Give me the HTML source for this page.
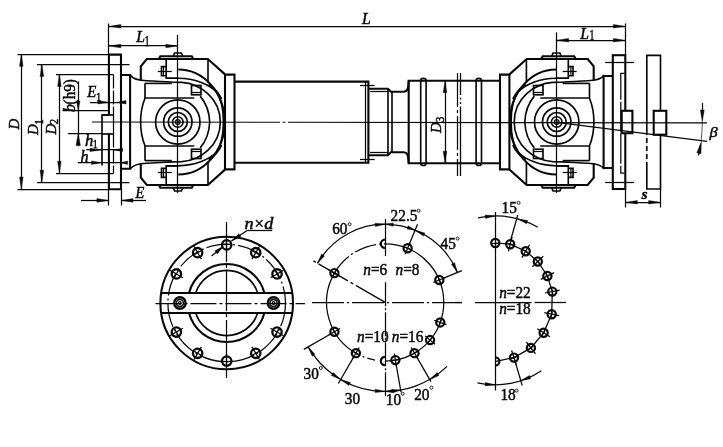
<!DOCTYPE html>
<html><head><meta charset="utf-8"><title>drawing</title>
<style>
html,body{margin:0;padding:0;background:#fff;}
body{width:723px;height:447px;overflow:hidden;font-family:"Liberation Serif",serif;}
svg{display:block;filter:grayscale(1) blur(0.3px);}
</style></head><body>
<svg width="723" height="447" viewBox="0 0 723 447" font-family="'Liberation Serif', serif" fill="#080808" stroke="none">
<rect x="0" y="0" width="723" height="447" fill="#ffffff"/>
<g stroke="#080808" fill="none" stroke-linecap="butt" stroke-linejoin="miter">
<line x1="177.50" y1="35.00" x2="177.50" y2="193.00" stroke-width="1.25"/>
<line x1="556.50" y1="32.30" x2="556.50" y2="193.00" stroke-width="1.25"/>
<g>
<g>
<path d="M140.80,80.2 L140.80,66.4 L146.80,59 L207.80,59 L225.30,74.6 L234.50,74.6 L234.50,122.0" stroke-width="2.1" fill="none"/>
<line x1="225.00" y1="74.60" x2="225.00" y2="122.00" stroke-width="2.1"/>
<line x1="208.00" y1="59.00" x2="208.00" y2="82.50" stroke-width="1.65"/>
<path d="M158.80,59 L160.30,56.2 L191.80,56.2 L193.30,59" stroke-width="2.1" fill="none"/>
<path d="M173.30,56 L174.60,53 L181.40,53 L182.70,56" stroke-width="1.65" fill="none"/>
<path d="M166.20,59 L166.20,78.2 L178.30,78.2" stroke-width="1.65" fill="none"/>
<path d="M166.20,66.6 L161.50,66.6 L161.50,75.7 L166.20,75.7" stroke-width="1.65" fill="none"/>
<line x1="163.50" y1="66.60" x2="163.50" y2="75.70" stroke-width="1.25"/>
<line x1="157.80" y1="71.50" x2="171.80" y2="71.50" stroke-width="1.25"/>
<path d="M166.20,78.2 L178.30,78.2 C194.80,78.4 208.80,84 216.50,92 C221.00,98.5 223.40,110 223.40,122.0" stroke-width="1.65" fill="none"/>
<path d="M178.30,69.5 A46.3,52.5 0 0 1 224.60,122.0" stroke-width="2.1" fill="none"/>
<path d="M130.10,75 C132.80,79 137.80,80.5 146.80,80.8 C157.80,81.2 169.80,82.2 181.80,82.4 C199.80,83.5 220.30,98 220.30,122.0" stroke-width="1.65" fill="none"/>
<path d="M145.00,83.4 L171.80,83.4" stroke-width="1.65" fill="none"/>
<path d="M208.80,84.2 C214.80,88.5 218.80,93 221.60,99" stroke-width="1.8" fill="none"/>
<path d="M145.00,83.2 L145.00,98.2 C141.00,108 140.60,115 140.60,122.0" stroke-width="1.65" fill="none"/>
<line x1="145.00" y1="98.00" x2="194.30" y2="98.00" stroke-width="1.65"/>
<rect x="191.50" y="85.50" width="9.50" height="9.30" stroke-width="1.65" fill="none"/>
<line x1="191.50" y1="92.50" x2="201.00" y2="92.50" stroke-width="1.25"/>
<path d="M200.20,96.1 A31.9,38.5 0 0 1 209.70,122.0" stroke-width="1.65" fill="none"/>
</g>
<g transform="translate(0,244.00) scale(1,-1)">
<path d="M140.80,80.2 L140.80,66.4 L146.80,59 L207.80,59 L225.30,74.6 L234.50,74.6 L234.50,122.0" stroke-width="2.1" fill="none"/>
<line x1="225.00" y1="74.60" x2="225.00" y2="122.00" stroke-width="2.1"/>
<line x1="208.00" y1="59.00" x2="208.00" y2="82.50" stroke-width="1.65"/>
<path d="M158.80,59 L160.30,56.2 L191.80,56.2 L193.30,59" stroke-width="2.1" fill="none"/>
<path d="M173.30,56 L174.60,53 L181.40,53 L182.70,56" stroke-width="1.65" fill="none"/>
<path d="M166.20,59 L166.20,78.2 L178.30,78.2" stroke-width="1.65" fill="none"/>
<path d="M166.20,66.6 L161.50,66.6 L161.50,75.7 L166.20,75.7" stroke-width="1.65" fill="none"/>
<line x1="163.50" y1="66.60" x2="163.50" y2="75.70" stroke-width="1.25"/>
<line x1="157.80" y1="71.50" x2="171.80" y2="71.50" stroke-width="1.25"/>
<path d="M166.20,78.2 L178.30,78.2 C194.80,78.4 208.80,84 216.50,92 C221.00,98.5 223.40,110 223.40,122.0" stroke-width="1.65" fill="none"/>
<path d="M178.30,69.5 A46.3,52.5 0 0 1 224.60,122.0" stroke-width="2.1" fill="none"/>
<path d="M130.10,75 C132.80,79 137.80,80.5 146.80,80.8 C157.80,81.2 169.80,82.2 181.80,82.4 C199.80,83.5 220.30,98 220.30,122.0" stroke-width="1.65" fill="none"/>
<path d="M145.00,83.4 L171.80,83.4" stroke-width="1.65" fill="none"/>
<path d="M208.80,84.2 C214.80,88.5 218.80,93 221.60,99" stroke-width="1.8" fill="none"/>
<path d="M145.00,83.2 L145.00,98.2 C141.00,108 140.60,115 140.60,122.0" stroke-width="1.65" fill="none"/>
<line x1="145.00" y1="98.00" x2="194.30" y2="98.00" stroke-width="1.65"/>
<rect x="191.50" y="85.50" width="9.50" height="9.30" stroke-width="1.65" fill="none"/>
<line x1="191.50" y1="92.50" x2="201.00" y2="92.50" stroke-width="1.25"/>
<path d="M200.20,96.1 A31.9,38.5 0 0 1 209.70,122.0" stroke-width="1.65" fill="none"/>
</g>
<circle cx="177.80" cy="122.00" r="22.20" stroke-width="1.7" fill="none"/>
<circle cx="177.80" cy="122.00" r="14.20" stroke-width="1.7" fill="none"/>
<circle cx="177.80" cy="122.00" r="9.50" stroke-width="1.7" fill="none"/>
<circle cx="177.80" cy="122.00" r="5.30" stroke-width="1.6" fill="none"/>
<circle cx="177.80" cy="122.00" r="2.30" stroke-width="1.3" fill="none"/>
<circle cx="177.80" cy="122.00" r="0.90" stroke-width="0.5" fill="#080808"/>
</g>
<g transform="translate(1113.40,0) scale(-1,1)">
<g>
<path d="M519.70,80.2 L519.70,66.4 L525.70,59 L586.70,59 L604.20,74.6 L613.40,74.6 L613.40,122.0" stroke-width="2.1" fill="none"/>
<line x1="604.00" y1="74.60" x2="604.00" y2="122.00" stroke-width="2.1"/>
<line x1="587.00" y1="59.00" x2="587.00" y2="82.50" stroke-width="1.65"/>
<path d="M537.70,59 L539.20,56.2 L570.70,56.2 L572.20,59" stroke-width="2.1" fill="none"/>
<path d="M552.20,56 L553.50,53 L560.30,53 L561.60,56" stroke-width="1.65" fill="none"/>
<path d="M545.10,59 L545.10,78.2 L557.20,78.2" stroke-width="1.65" fill="none"/>
<path d="M545.10,66.6 L540.40,66.6 L540.40,75.7 L545.10,75.7" stroke-width="1.65" fill="none"/>
<line x1="542.50" y1="66.60" x2="542.50" y2="75.70" stroke-width="1.25"/>
<line x1="536.70" y1="71.50" x2="550.70" y2="71.50" stroke-width="1.25"/>
<path d="M545.10,78.2 L557.20,78.2 C573.70,78.4 587.70,84 595.40,92 C599.90,98.5 602.30,110 602.30,122.0" stroke-width="1.65" fill="none"/>
<path d="M557.20,69.5 A46.3,52.5 0 0 1 603.50,122.0" stroke-width="2.1" fill="none"/>
<path d="M509.00,75 C511.70,79 516.70,80.5 525.70,80.8 C536.70,81.2 548.70,82.2 560.70,82.4 C578.70,83.5 599.20,98 599.20,122.0" stroke-width="1.65" fill="none"/>
<path d="M523.90,83.4 L550.70,83.4" stroke-width="1.65" fill="none"/>
<path d="M587.70,84.2 C593.70,88.5 597.70,93 600.50,99" stroke-width="1.8" fill="none"/>
<path d="M523.90,83.2 L523.90,98.2 C519.90,108 519.50,115 519.50,122.0" stroke-width="1.65" fill="none"/>
<line x1="523.90" y1="98.00" x2="573.20" y2="98.00" stroke-width="1.65"/>
<rect x="570.40" y="85.50" width="9.50" height="9.30" stroke-width="1.65" fill="none"/>
<line x1="570.40" y1="92.50" x2="579.90" y2="92.50" stroke-width="1.25"/>
<path d="M579.10,96.1 A31.9,38.5 0 0 1 588.60,122.0" stroke-width="1.65" fill="none"/>
</g>
<g transform="translate(0,244.00) scale(1,-1)">
<path d="M519.70,80.2 L519.70,66.4 L525.70,59 L586.70,59 L604.20,74.6 L613.40,74.6 L613.40,122.0" stroke-width="2.1" fill="none"/>
<line x1="604.00" y1="74.60" x2="604.00" y2="122.00" stroke-width="2.1"/>
<line x1="587.00" y1="59.00" x2="587.00" y2="82.50" stroke-width="1.65"/>
<path d="M537.70,59 L539.20,56.2 L570.70,56.2 L572.20,59" stroke-width="2.1" fill="none"/>
<path d="M552.20,56 L553.50,53 L560.30,53 L561.60,56" stroke-width="1.65" fill="none"/>
<path d="M545.10,59 L545.10,78.2 L557.20,78.2" stroke-width="1.65" fill="none"/>
<path d="M545.10,66.6 L540.40,66.6 L540.40,75.7 L545.10,75.7" stroke-width="1.65" fill="none"/>
<line x1="542.50" y1="66.60" x2="542.50" y2="75.70" stroke-width="1.25"/>
<line x1="536.70" y1="71.50" x2="550.70" y2="71.50" stroke-width="1.25"/>
<path d="M545.10,78.2 L557.20,78.2 C573.70,78.4 587.70,84 595.40,92 C599.90,98.5 602.30,110 602.30,122.0" stroke-width="1.65" fill="none"/>
<path d="M557.20,69.5 A46.3,52.5 0 0 1 603.50,122.0" stroke-width="2.1" fill="none"/>
<path d="M509.00,75 C511.70,79 516.70,80.5 525.70,80.8 C536.70,81.2 548.70,82.2 560.70,82.4 C578.70,83.5 599.20,98 599.20,122.0" stroke-width="1.65" fill="none"/>
<path d="M523.90,83.4 L550.70,83.4" stroke-width="1.65" fill="none"/>
<path d="M587.70,84.2 C593.70,88.5 597.70,93 600.50,99" stroke-width="1.8" fill="none"/>
<path d="M523.90,83.2 L523.90,98.2 C519.90,108 519.50,115 519.50,122.0" stroke-width="1.65" fill="none"/>
<line x1="523.90" y1="98.00" x2="573.20" y2="98.00" stroke-width="1.65"/>
<rect x="570.40" y="85.50" width="9.50" height="9.30" stroke-width="1.65" fill="none"/>
<line x1="570.40" y1="92.50" x2="579.90" y2="92.50" stroke-width="1.25"/>
<path d="M579.10,96.1 A31.9,38.5 0 0 1 588.60,122.0" stroke-width="1.65" fill="none"/>
</g>
<circle cx="556.70" cy="122.00" r="22.20" stroke-width="1.7" fill="none"/>
<circle cx="556.70" cy="122.00" r="14.20" stroke-width="1.7" fill="none"/>
<circle cx="556.70" cy="122.00" r="9.50" stroke-width="1.7" fill="none"/>
<circle cx="556.70" cy="122.00" r="5.30" stroke-width="1.6" fill="none"/>
<circle cx="556.70" cy="122.00" r="2.30" stroke-width="1.3" fill="none"/>
<circle cx="556.70" cy="122.00" r="0.90" stroke-width="0.5" fill="#080808"/>
</g>
<path d="M108.9,115 L108.9,54.6 L121,54.6 L121,189.2 L108.9,189.2 L108.9,133.5" stroke-width="2.1" fill="none"/>
<line x1="113.50" y1="74.40" x2="113.50" y2="115.00" stroke-width="1.25" stroke-dasharray="14 2"/>
<line x1="113.50" y1="133.50" x2="113.50" y2="173.40" stroke-width="1.25" stroke-dasharray="14 2"/>
<line x1="113.50" y1="115.00" x2="113.50" y2="133.50" stroke-width="1.25"/>
<path d="M121,75 L130.1,75 L130.1,168.8 L121,168.8" stroke-width="2.1" fill="none"/>
<path d="M108.9,115 L102,115 L102,165.5" stroke-width="1.65" fill="none"/>
<line x1="102.00" y1="134.00" x2="113.40" y2="134.00" stroke-width="1.65"/>
<line x1="102.00" y1="115.00" x2="113.40" y2="115.00" stroke-width="1.65"/>
<rect x="612.80" y="55.20" width="12.50" height="133.80" stroke-width="2.1" fill="none"/>
<path d="M624.4,73.3 L620.8,73.3 L620.8,173.2 L624.4,173.2" stroke-width="1.25" fill="none" stroke-dasharray="30 2"/>
<path d="M612.8,76 L603.6,76 L603.6,168 L612.8,168" stroke-width="2.1" fill="none"/>
<line x1="605.00" y1="62.50" x2="634.00" y2="62.50" stroke-width="1.25"/>
<line x1="605.00" y1="182.50" x2="634.00" y2="182.50" stroke-width="1.25"/>
<rect x="621.7" y="110.8" width="10.7" height="22.4" fill="#fff" stroke-width="2.1"/>
<path d="M646.8,189 L646.8,55.4 L660.5,55.4 L660.5,189 Z" stroke-width="1.65" fill="none"/>
<line x1="647.00" y1="135.00" x2="647.00" y2="165.00" stroke-width="1.8" stroke-dasharray="3 5" stroke="#fff"/>
<rect x="653.7" y="110.8" width="12.6" height="23.9" fill="#fff" stroke-width="2.1"/>
<path d="M702.30,122.00 A145.60,145.60 0 0 1 701.09,140.75" stroke-width="0.7" fill="none"/>
<line x1="702.50" y1="103.00" x2="702.50" y2="114.00" stroke-width="1.25"/>
<polygon points="702.30,122.00 700.40,110.00 704.20,110.00" fill="#080808" stroke="#080808" stroke-width="0.4"/>
<line x1="699.60" y1="150.00" x2="698.40" y2="155.40" stroke-width="1.25"/>
<polygon points="701.40,141.50 700.96,153.67 696.85,152.80" fill="#080808" stroke="#080808" stroke-width="0.4"/>
<path d="M234.5,81.6 L368.4,81.6 L368.4,162.8 L234.5,162.8" stroke-width="2.1" fill="none"/>
<line x1="365.50" y1="81.60" x2="365.50" y2="162.80" stroke-width="1.25"/>
<line x1="360.00" y1="85.50" x2="374.60" y2="85.50" stroke-width="1.25"/>
<line x1="360.00" y1="159.50" x2="374.60" y2="159.50" stroke-width="1.25"/>
<path d="M368.4,88.70 L388,88.70 L390.8,91.80 L404,91.80 C407.5,91.50 408.3,89.00 408.7,80.70" stroke-width="2.1" fill="none"/>
<line x1="370.00" y1="91.50" x2="388.00" y2="91.50" stroke-width="1.25"/>
<path d="M368.4,155.30 L388,155.30 L390.8,152.20 L404,152.20 C407.5,152.50 408.3,155.00 408.7,163.30" stroke-width="2.1" fill="none"/>
<line x1="370.00" y1="152.50" x2="388.00" y2="152.50" stroke-width="1.25"/>
<line x1="388.00" y1="88.70" x2="388.00" y2="155.30" stroke-width="1.65"/>
<line x1="392.00" y1="91.80" x2="392.00" y2="152.20" stroke-width="1.65"/>
<path d="M499.5,80.7 L408.7,80.7 L408.7,163.2 L499.5,163.2" stroke-width="2.1" fill="none"/>
<path d="M420.7,163.2 L420.7,80.5 C420.7,77.6 426.09999999999997,77.6 426.09999999999997,80.5 L426.09999999999997,163.2 C426.09999999999997,166.2 420.7,166.2 420.7,163.2" stroke-width="1.65" fill="none"/>
<path d="M476.1,163.2 L476.1,80.5 C476.1,77.6 481.5,77.6 481.5,80.5 L481.5,163.2 C481.5,166.2 476.1,166.2 476.1,163.2" stroke-width="1.65" fill="none"/>
<line x1="457.50" y1="73.00" x2="457.50" y2="176.00" stroke-width="1.25" stroke-dasharray="34 3 3 3"/>
<line x1="460.50" y1="73.00" x2="460.50" y2="176.00" stroke-width="1.3" stroke-dasharray="22 2.5 2 2.5 2 2.5 70 0"/>
<line x1="92.00" y1="122.00" x2="707.00" y2="122.90" stroke-width="1.15" stroke-dasharray="188 2.5 3 2.5 1000 0"/>
<line x1="556.70" y1="122.40" x2="707.00" y2="141.40" stroke-width="1.25"/>
<line x1="108.50" y1="23.50" x2="108.50" y2="54.60" stroke-width="1.25"/>
<line x1="625.50" y1="23.50" x2="625.50" y2="55.20" stroke-width="1.25"/>
<line x1="108.90" y1="26.50" x2="625.30" y2="26.50" stroke-width="1.25"/>
<polygon points="108.90,26.30 120.90,24.50 120.90,28.10" fill="#080808" stroke="#080808" stroke-width="0.4"/>
<polygon points="625.30,26.30 613.30,28.10 613.30,24.50" fill="#080808" stroke="#080808" stroke-width="0.4"/>
<line x1="108.90" y1="45.50" x2="177.80" y2="45.50" stroke-width="1.25"/>
<polygon points="108.90,46.00 120.90,44.20 120.90,47.80" fill="#080808" stroke="#080808" stroke-width="0.4"/>
<polygon points="177.80,46.00 165.80,47.80 165.80,44.20" fill="#080808" stroke="#080808" stroke-width="0.4"/>
<line x1="556.70" y1="40.50" x2="625.30" y2="40.50" stroke-width="1.25"/>
<polygon points="556.70,40.20 568.70,38.40 568.70,42.00" fill="#080808" stroke="#080808" stroke-width="0.4"/>
<polygon points="625.30,40.20 613.30,42.00 613.30,38.40" fill="#080808" stroke="#080808" stroke-width="0.4"/>
<line x1="21.50" y1="54.30" x2="21.50" y2="189.00" stroke-width="1.25"/>
<line x1="17.50" y1="54.50" x2="108.90" y2="54.50" stroke-width="1.25"/>
<line x1="17.50" y1="189.50" x2="108.90" y2="189.50" stroke-width="1.25"/>
<polygon points="21.30,54.30 23.10,66.30 19.50,66.30" fill="#080808" stroke="#080808" stroke-width="0.4"/>
<polygon points="21.30,189.00 19.50,177.00 23.10,177.00" fill="#080808" stroke="#080808" stroke-width="0.4"/>
<line x1="41.50" y1="64.40" x2="41.50" y2="182.20" stroke-width="1.25"/>
<line x1="37.00" y1="64.50" x2="129.50" y2="64.50" stroke-width="1.25"/>
<line x1="37.00" y1="182.50" x2="129.50" y2="182.50" stroke-width="1.25"/>
<polygon points="41.90,64.40 43.70,76.40 40.10,76.40" fill="#080808" stroke="#080808" stroke-width="0.4"/>
<polygon points="41.90,182.20 40.10,170.20 43.70,170.20" fill="#080808" stroke="#080808" stroke-width="0.4"/>
<line x1="59.50" y1="74.40" x2="59.50" y2="173.30" stroke-width="1.25"/>
<line x1="56.00" y1="74.50" x2="113.40" y2="74.50" stroke-width="1.25"/>
<line x1="56.00" y1="173.50" x2="113.40" y2="173.50" stroke-width="1.25"/>
<polygon points="59.40,74.40 61.20,86.40 57.60,86.40" fill="#080808" stroke="#080808" stroke-width="0.4"/>
<polygon points="59.40,173.30 57.60,161.30 61.20,161.30" fill="#080808" stroke="#080808" stroke-width="0.4"/>
<line x1="78.50" y1="81.30" x2="78.50" y2="146.30" stroke-width="1.25"/>
<line x1="62.50" y1="110.50" x2="108.90" y2="110.50" stroke-width="1.25"/>
<line x1="68.00" y1="133.50" x2="102.00" y2="133.50" stroke-width="1.25"/>
<polygon points="78.20,110.00 76.40,101.00 80.00,101.00" fill="#080808" stroke="#080808" stroke-width="0.4"/>
<polygon points="78.20,133.50 80.40,145.50 76.00,145.50" fill="#080808" stroke="#080808" stroke-width="0.4"/>
<line x1="90.00" y1="102.50" x2="126.00" y2="102.50" stroke-width="1.25"/>
<polygon points="108.90,102.30 97.90,104.00 97.90,100.60" fill="#080808" stroke="#080808" stroke-width="0.4"/>
<polygon points="117.00,102.30 126.00,100.60 126.00,104.00" fill="#080808" stroke="#080808" stroke-width="0.4"/>
<line x1="86.20" y1="149.50" x2="122.50" y2="149.50" stroke-width="1.25"/>
<polygon points="102.00,149.90 90.00,151.60 90.00,148.20" fill="#080808" stroke="#080808" stroke-width="0.4"/>
<polygon points="113.60,149.90 122.60,148.20 122.60,151.60" fill="#080808" stroke="#080808" stroke-width="0.4"/>
<line x1="77.80" y1="162.50" x2="126.50" y2="162.50" stroke-width="1.25"/>
<polygon points="102.00,162.70 91.50,164.40 91.50,161.00" fill="#080808" stroke="#080808" stroke-width="0.4"/>
<polygon points="120.60,162.70 127.60,161.00 127.60,164.40" fill="#080808" stroke="#080808" stroke-width="0.4"/>
<line x1="108.50" y1="189.20" x2="108.50" y2="205.50" stroke-width="1.25"/>
<line x1="121.50" y1="189.20" x2="121.50" y2="205.50" stroke-width="1.25"/>
<line x1="81.00" y1="200.50" x2="108.90" y2="200.50" stroke-width="1.25"/>
<line x1="121.00" y1="200.50" x2="146.00" y2="200.50" stroke-width="1.25"/>
<polygon points="108.90,200.40 96.90,202.20 96.90,198.60" fill="#080808" stroke="#080808" stroke-width="0.4"/>
<polygon points="121.00,200.40 133.00,198.60 133.00,202.20" fill="#080808" stroke="#080808" stroke-width="0.4"/>
<line x1="445.50" y1="80.70" x2="445.50" y2="163.20" stroke-width="1.25"/>
<polygon points="445.00,80.70 446.80,92.70 443.20,92.70" fill="#080808" stroke="#080808" stroke-width="0.4"/>
<polygon points="445.00,163.20 443.20,151.20 446.80,151.20" fill="#080808" stroke="#080808" stroke-width="0.4"/>
<line x1="625.50" y1="189.00" x2="625.50" y2="207.50" stroke-width="1.25"/>
<line x1="660.50" y1="188.80" x2="660.50" y2="207.50" stroke-width="1.25"/>
<line x1="625.30" y1="202.50" x2="660.60" y2="202.50" stroke-width="1.25"/>
<polygon points="625.30,202.30 637.30,200.60 637.30,204.00" fill="#080808" stroke="#080808" stroke-width="0.4"/>
<polygon points="660.60,202.30 648.60,204.00 648.60,200.60" fill="#080808" stroke="#080808" stroke-width="0.4"/>
<line x1="155.50" y1="303.50" x2="305.00" y2="303.50" stroke-width="1.25" stroke-dasharray="26 3 3 3"/>
<line x1="226.50" y1="222.00" x2="226.50" y2="378.00" stroke-width="1.25" stroke-dasharray="40 3 3 3"/>
<circle cx="226.70" cy="303.00" r="66.30" stroke-width="2.1" fill="none"/>
<circle cx="226.70" cy="303.00" r="58.80" stroke-width="1.25" fill="none" stroke-dasharray="24 3 2 3"/>
<path d="M188.95,293.20 A39.0,39.0 0 0 1 264.45,293.20" stroke-width="2.1" fill="none"/>
<path d="M188.95,312.80 A39.0,39.0 0 0 0 264.45,312.80" stroke-width="2.1" fill="none"/>
<path d="M195.61,293.20 A32.6,32.6 0 0 1 257.79,293.20" stroke-width="1.65" fill="none"/>
<path d="M195.61,312.80 A32.6,32.6 0 0 0 257.79,312.80" stroke-width="1.65" fill="none"/>
<line x1="161.13" y1="293.00" x2="292.27" y2="293.00" stroke-width="1.9"/>
<line x1="161.13" y1="313.00" x2="292.27" y2="313.00" stroke-width="1.9"/>
<circle cx="179.90" cy="303.00" r="5.70" stroke-width="2.4" fill="none"/>
<circle cx="179.90" cy="303.00" r="3.50" stroke-width="1.6" fill="none"/>
<circle cx="179.90" cy="303.00" r="1.30" stroke-width="1.2" fill="none"/>
<circle cx="273.50" cy="303.00" r="5.70" stroke-width="2.4" fill="none"/>
<circle cx="273.50" cy="303.00" r="3.50" stroke-width="1.6" fill="none"/>
<circle cx="273.50" cy="303.00" r="1.30" stroke-width="1.2" fill="none"/>
<circle cx="226.70" cy="244.90" r="4.70" stroke-width="2.3" fill="none"/>
<line x1="226.50" y1="252.40" x2="226.50" y2="237.40" stroke-width="1.25"/>
<line x1="222.70" y1="244.50" x2="230.70" y2="244.50" stroke-width="1.25"/>
<circle cx="255.75" cy="252.68" r="4.70" stroke-width="2.3" fill="none"/>
<line x1="252.00" y1="259.18" x2="259.50" y2="246.19" stroke-width="1.25"/>
<line x1="252.29" y1="250.68" x2="259.21" y2="254.68" stroke-width="1.25"/>
<circle cx="277.02" cy="273.95" r="4.70" stroke-width="2.3" fill="none"/>
<line x1="270.52" y1="277.70" x2="283.51" y2="270.20" stroke-width="1.25"/>
<line x1="275.02" y1="270.49" x2="279.02" y2="277.41" stroke-width="1.25"/>
<circle cx="277.02" cy="332.05" r="4.70" stroke-width="2.3" fill="none"/>
<line x1="270.52" y1="328.30" x2="283.51" y2="335.80" stroke-width="1.25"/>
<line x1="279.02" y1="328.59" x2="275.02" y2="335.51" stroke-width="1.25"/>
<circle cx="255.75" cy="353.32" r="4.70" stroke-width="2.3" fill="none"/>
<line x1="252.00" y1="346.82" x2="259.50" y2="359.81" stroke-width="1.25"/>
<line x1="259.21" y1="351.32" x2="252.29" y2="355.32" stroke-width="1.25"/>
<circle cx="226.70" cy="361.10" r="4.70" stroke-width="2.3" fill="none"/>
<line x1="226.50" y1="353.60" x2="226.50" y2="368.60" stroke-width="1.25"/>
<line x1="230.70" y1="361.50" x2="222.70" y2="361.50" stroke-width="1.25"/>
<circle cx="197.65" cy="353.32" r="4.70" stroke-width="2.3" fill="none"/>
<line x1="201.40" y1="346.82" x2="193.90" y2="359.81" stroke-width="1.25"/>
<line x1="201.11" y1="355.32" x2="194.19" y2="351.32" stroke-width="1.25"/>
<circle cx="176.38" cy="332.05" r="4.70" stroke-width="2.3" fill="none"/>
<line x1="182.88" y1="328.30" x2="169.89" y2="335.80" stroke-width="1.25"/>
<line x1="178.38" y1="335.51" x2="174.38" y2="328.59" stroke-width="1.25"/>
<circle cx="176.38" cy="273.95" r="4.70" stroke-width="2.3" fill="none"/>
<line x1="182.88" y1="277.70" x2="169.89" y2="270.20" stroke-width="1.25"/>
<line x1="174.38" y1="277.41" x2="178.38" y2="270.49" stroke-width="1.25"/>
<circle cx="197.65" cy="252.68" r="4.70" stroke-width="2.3" fill="none"/>
<line x1="201.40" y1="259.18" x2="193.90" y2="246.19" stroke-width="1.25"/>
<line x1="194.19" y1="254.68" x2="201.11" y2="250.68" stroke-width="1.25"/>
<line x1="247.40" y1="230.50" x2="272.20" y2="230.50" stroke-width="1.25"/>
<line x1="247.40" y1="230.30" x2="231.50" y2="240.90" stroke-width="1.25"/>
<polygon points="231.50,240.90 238.82,233.85 240.82,236.85" fill="#080808" stroke="#080808" stroke-width="0.4"/>
<line x1="211.50" y1="256.00" x2="222.00" y2="247.40" stroke-width="1.25"/>
<polygon points="223.00,246.60 217.39,253.92 214.82,250.85" fill="#080808" stroke="#080808" stroke-width="0.4"/>
<line x1="312.00" y1="302.50" x2="462.00" y2="302.50" stroke-width="1.25" stroke-dasharray="32 3 2 3"/>
<line x1="385.50" y1="219.00" x2="385.50" y2="256.00" stroke-width="1.25"/>
<line x1="385.50" y1="282.30" x2="385.50" y2="398.00" stroke-width="1.25" stroke-dasharray="24 2 2 2"/>
<path d="M334.45,273.10 A58.60,58.60 0 0 1 385.20,243.80" stroke-width="1.25" fill="none" stroke-dasharray="22 3 2 3"/>
<path d="M385.20,243.80 A58.60,58.60 0 0 1 442.91,312.58" stroke-width="1.25" fill="none"/>
<path d="M442.91,312.58 A58.60,58.60 0 0 1 433.20,336.01" stroke-width="1.25" fill="none"/>
<path d="M375.02,360.11 A58.60,58.60 0 0 1 354.15,352.10" stroke-width="1.25" fill="none" stroke-dasharray="8 3 2 3"/>
<path d="M357.69,354.14 A58.60,58.60 0 0 1 334.45,273.10" stroke-width="1.25" fill="none"/>
<path d="M433.20,336.01 A58.60,58.60 0 0 1 385.20,361.00" stroke-width="1.25" fill="none"/>
<circle cx="334.45" cy="273.10" r="4.10" stroke-width="2.2" fill="none"/>
<line x1="340.08" y1="276.35" x2="328.82" y2="269.85" stroke-width="1.25"/>
<line x1="332.85" y1="275.87" x2="336.05" y2="270.33" stroke-width="1.25"/>
<circle cx="407.63" cy="248.26" r="4.10" stroke-width="2.2" fill="none"/>
<line x1="405.14" y1="254.27" x2="410.11" y2="242.26" stroke-width="1.25"/>
<line x1="404.67" y1="247.04" x2="410.58" y2="249.49" stroke-width="1.25"/>
<circle cx="439.34" cy="279.97" r="4.10" stroke-width="2.2" fill="none"/>
<line x1="433.33" y1="282.46" x2="445.34" y2="277.49" stroke-width="1.25"/>
<line x1="438.11" y1="277.02" x2="440.56" y2="282.93" stroke-width="1.25"/>
<circle cx="440.27" cy="322.44" r="4.10" stroke-width="2.2" fill="none"/>
<line x1="434.16" y1="320.22" x2="446.37" y2="324.67" stroke-width="1.25"/>
<line x1="441.36" y1="319.44" x2="439.17" y2="325.45" stroke-width="1.25"/>
<circle cx="430.09" cy="340.07" r="4.10" stroke-width="2.2" fill="none"/>
<line x1="425.11" y1="335.89" x2="435.07" y2="344.25" stroke-width="1.25"/>
<line x1="432.15" y1="337.62" x2="428.03" y2="342.52" stroke-width="1.25"/>
<circle cx="414.50" cy="353.15" r="4.10" stroke-width="2.2" fill="none"/>
<line x1="411.25" y1="347.52" x2="417.75" y2="358.78" stroke-width="1.25"/>
<line x1="417.27" y1="351.55" x2="411.73" y2="354.75" stroke-width="1.25"/>
<circle cx="395.38" cy="360.11" r="4.10" stroke-width="2.2" fill="none"/>
<line x1="394.25" y1="353.71" x2="396.50" y2="366.51" stroke-width="1.25"/>
<line x1="398.53" y1="359.55" x2="392.22" y2="360.67" stroke-width="1.25"/>
<circle cx="355.90" cy="353.15" r="4.10" stroke-width="2.2" fill="none"/>
<line x1="359.15" y1="347.52" x2="352.65" y2="358.78" stroke-width="1.25"/>
<line x1="358.67" y1="354.75" x2="353.13" y2="351.55" stroke-width="1.25"/>
<circle cx="334.45" cy="331.70" r="4.10" stroke-width="2.2" fill="none"/>
<line x1="340.08" y1="328.45" x2="328.82" y2="334.95" stroke-width="1.25"/>
<line x1="336.05" y1="334.47" x2="332.85" y2="328.93" stroke-width="1.25"/>
<path d="M384.90,239.70 A4.1,4.1 0 0 0 384.90,247.90" stroke-width="2.2" fill="none"/>
<path d="M384.90,356.90 A4.1,4.1 0 0 0 384.90,365.10" stroke-width="2.2" fill="none"/>
<line x1="385.20" y1="302.40" x2="312.89" y2="260.65" stroke-width="1.25" stroke-dasharray="34 3 3 3"/>
<line x1="409.16" y1="244.57" x2="417.54" y2="224.33" stroke-width="1.25"/>
<line x1="443.03" y1="278.44" x2="461.88" y2="270.64" stroke-width="1.25"/>
<line x1="330.99" y1="333.70" x2="303.79" y2="349.40" stroke-width="1.25"/>
<line x1="353.90" y1="356.61" x2="338.35" y2="383.55" stroke-width="1.25"/>
<line x1="396.07" y1="364.05" x2="401.00" y2="392.02" stroke-width="1.25"/>
<line x1="416.50" y1="356.61" x2="430.95" y2="381.64" stroke-width="1.25"/>
<path d="M317.48,263.30 A78.20,78.20 0 0 1 457.45,272.47" stroke-width="1.25" fill="none"/>
<polygon points="317.48,263.30 321.61,254.03 324.43,255.92" fill="#080808" stroke="#080808" stroke-width="0.4"/>
<polygon points="385.20,224.20 375.33,226.54 375.11,223.14" fill="#080808" stroke="#080808" stroke-width="0.4"/>
<polygon points="385.20,224.20 393.28,222.91 393.10,226.31" fill="#080808" stroke="#080808" stroke-width="0.4"/>
<polygon points="415.13,230.15 407.02,229.07 408.16,225.87" fill="#080808" stroke="#080808" stroke-width="0.4"/>
<polygon points="415.13,230.15 424.85,233.04 423.35,236.09" fill="#080808" stroke="#080808" stroke-width="0.4"/>
<polygon points="457.45,272.47 451.51,264.25 454.56,262.75" fill="#080808" stroke="#080808" stroke-width="0.4"/>
<path d="M447.02,366.42 A89.00,89.00 0 0 1 308.12,346.90" stroke-width="1.25" fill="none"/>
<polygon points="308.12,346.90 315.02,354.33 312.18,356.20" fill="#080808" stroke="#080808" stroke-width="0.4"/>
<polygon points="340.70,379.48 331.40,375.42 333.27,372.58" fill="#080808" stroke="#080808" stroke-width="0.4"/>
<polygon points="340.70,379.48 350.39,382.46 348.86,385.50" fill="#080808" stroke="#080808" stroke-width="0.4"/>
<polygon points="385.20,391.40 375.12,392.54 375.31,389.14" fill="#080808" stroke="#080808" stroke-width="0.4"/>
<polygon points="385.20,391.40 393.12,389.34 393.27,392.74" fill="#080808" stroke="#080808" stroke-width="0.4"/>
<polygon points="400.65,390.05 392.94,392.77 392.50,389.40" fill="#080808" stroke="#080808" stroke-width="0.4"/>
<polygon points="429.70,379.48 437.13,372.58 439.00,375.42" fill="#080808" stroke="#080808" stroke-width="0.4"/>
<line x1="495.50" y1="212.00" x2="495.50" y2="390.50" stroke-width="1.25"/>
<line x1="455.00" y1="302.50" x2="462.00" y2="302.50" stroke-width="1.25"/>
<line x1="475.00" y1="302.50" x2="531.50" y2="302.50" stroke-width="1.25"/>
<line x1="534.50" y1="302.50" x2="566.00" y2="302.50" stroke-width="1.25"/>
<path d="M495.3,243.0 L510.2,244.2 L525.7,251.2 L537.8,261.5 L547.4,276.0 L552.3,291.6 L551.7,314.2 L543.6,332.8 L530.9,347.9 L514.0,357.6 L496.0,361.4" stroke-width="1.25" fill="none"/>
<circle cx="495.30" cy="243.00" r="4.10" stroke-width="2.2" fill="none"/>
<line x1="498.30" y1="243.50" x2="492.30" y2="243.50" stroke-width="1.25"/>
<circle cx="510.20" cy="244.20" r="4.10" stroke-width="2.2" fill="none"/>
<line x1="508.34" y1="251.47" x2="512.06" y2="236.93" stroke-width="1.25"/>
<line x1="513.11" y1="244.94" x2="507.29" y2="243.46" stroke-width="1.25"/>
<circle cx="525.70" cy="251.20" r="4.10" stroke-width="2.2" fill="none"/>
<line x1="521.88" y1="257.65" x2="529.52" y2="244.75" stroke-width="1.25"/>
<line x1="528.28" y1="252.73" x2="523.12" y2="249.67" stroke-width="1.25"/>
<circle cx="537.80" cy="261.50" r="4.10" stroke-width="2.2" fill="none"/>
<line x1="532.40" y1="266.71" x2="543.20" y2="256.29" stroke-width="1.25"/>
<line x1="539.88" y1="263.66" x2="535.72" y2="259.34" stroke-width="1.25"/>
<circle cx="547.40" cy="276.00" r="4.10" stroke-width="2.2" fill="none"/>
<line x1="540.72" y1="279.40" x2="554.08" y2="272.60" stroke-width="1.25"/>
<line x1="548.76" y1="278.67" x2="546.04" y2="273.33" stroke-width="1.25"/>
<circle cx="552.30" cy="291.60" r="4.10" stroke-width="2.2" fill="none"/>
<line x1="544.93" y1="293.01" x2="559.67" y2="290.19" stroke-width="1.25"/>
<line x1="552.86" y1="294.55" x2="551.74" y2="288.65" stroke-width="1.25"/>
<circle cx="551.70" cy="314.20" r="4.10" stroke-width="2.2" fill="none"/>
<line x1="544.36" y1="312.68" x2="559.04" y2="315.72" stroke-width="1.25"/>
<line x1="551.09" y1="317.14" x2="552.31" y2="311.26" stroke-width="1.25"/>
<circle cx="543.60" cy="332.80" r="4.10" stroke-width="2.2" fill="none"/>
<line x1="537.25" y1="328.81" x2="549.95" y2="336.79" stroke-width="1.25"/>
<line x1="542.01" y1="335.34" x2="545.19" y2="330.26" stroke-width="1.25"/>
<circle cx="530.90" cy="347.90" r="4.10" stroke-width="2.2" fill="none"/>
<line x1="526.27" y1="342.00" x2="535.53" y2="353.80" stroke-width="1.25"/>
<line x1="528.54" y1="349.75" x2="533.26" y2="346.05" stroke-width="1.25"/>
<circle cx="514.00" cy="357.60" r="4.10" stroke-width="2.2" fill="none"/>
<line x1="511.59" y1="350.50" x2="516.41" y2="364.70" stroke-width="1.25"/>
<line x1="511.16" y1="358.56" x2="516.84" y2="356.64" stroke-width="1.25"/>
<path d="M495.30,357.30 A4.1,4.1 0 0 1 495.30,365.50" stroke-width="2.2" fill="none"/>
<path d="M478.07,217.83 A86.40,86.40 0 0 1 537.85,227.30" stroke-width="1.25" fill="none"/>
<polygon points="495.30,216.10 485.42,218.38 485.22,214.98" fill="#080808" stroke="#080808" stroke-width="0.4"/>
<polygon points="517.66,219.04 527.69,220.57 526.62,223.80" fill="#080808" stroke="#080808" stroke-width="0.4"/>
<line x1="510.80" y1="239.50" x2="517.80" y2="215.00" stroke-width="1.25"/>
<path d="M541.32,370.73 A82.30,82.30 0 0 1 477.49,382.85" stroke-width="1.25" fill="none"/>
<polygon points="495.30,384.80 485.22,385.89 485.42,382.50" fill="#080808" stroke="#080808" stroke-width="0.4"/>
<polygon points="520.73,380.77 529.41,375.53 530.66,378.69" fill="#080808" stroke="#080808" stroke-width="0.4"/>
<line x1="515.20" y1="361.80" x2="522.20" y2="385.50" stroke-width="1.25"/>
</g>
<g stroke="#080808" stroke-width="0.5">
<text x="0.00" y="0.00" font-size="17.5" font-style="italic" text-anchor="start" transform="translate(362.00,23.60) rotate(0) scale(0.9,1)">L</text>
<text x="0.00" y="0.00" font-size="17.5" font-style="italic" text-anchor="start" transform="translate(136.20,41.80) rotate(0) scale(0.9,1)">L</text>
<text x="0.00" y="0.00" font-size="15" text-anchor="start" transform="translate(144.40,46.00) rotate(0) scale(0.7,1)">1</text>
<text x="0.00" y="0.00" font-size="17.5" font-style="italic" text-anchor="start" transform="translate(580.20,38.60) rotate(0) scale(0.9,1)">L</text>
<text x="0.00" y="0.00" font-size="14" text-anchor="start" transform="translate(589.60,40.20) rotate(0) scale(0.7,1)">1</text>
<text x="0.00" y="0.00" font-size="15.5" font-style="italic" text-anchor="start" transform="translate(19.40,129.60) rotate(-90) scale(0.95,1)">D</text>
<text x="0.00" y="0.00" font-size="15.5" font-style="italic" text-anchor="start" transform="translate(38.40,135.00) rotate(-90) scale(0.95,1)">D</text>
<text x="0.00" y="0.00" font-size="13" text-anchor="start" transform="translate(42.60,124.40) rotate(-90) scale(0.8,1)">1</text>
<text x="0.00" y="0.00" font-size="15.5" font-style="italic" text-anchor="start" transform="translate(55.80,134.60) rotate(-90) scale(0.95,1)">D</text>
<text x="0.00" y="0.00" font-size="12.5" text-anchor="start" transform="translate(58.20,124.20) rotate(-90) scale(0.85,1)">2</text>
<text x="0.00" y="0.00" font-size="17.5" font-style="italic" text-anchor="start" transform="translate(75.20,112.00) rotate(-90) scale(0.9,1)">b</text>
<text x="0.00" y="0.00" font-size="16.5" text-anchor="start" transform="translate(75.20,104.40) rotate(-90) scale(0.92,1)">(h9)</text>
<text x="0.00" y="0.00" font-size="17.5" font-style="italic" text-anchor="start" transform="translate(87.20,96.90) rotate(0) scale(0.85,1)">E</text>
<text x="0.00" y="0.00" font-size="13" text-anchor="start" transform="translate(96.00,100.60) rotate(0) scale(0.8,1)">1</text>
<text x="0.00" y="0.00" font-size="17.5" font-style="italic" text-anchor="start" transform="translate(85.00,146.30) rotate(0) scale(0.95,1)">h</text>
<text x="0.00" y="0.00" font-size="12.5" text-anchor="start" transform="translate(92.80,148.40) rotate(0) scale(0.8,1)">1</text>
<text x="0.00" y="0.00" font-size="17" font-style="italic" text-anchor="start" transform="translate(80.40,162.00) rotate(0) scale(0.95,1)">h</text>
<text x="0.00" y="0.00" font-size="17" font-style="italic" text-anchor="start" transform="translate(135.60,198.00) rotate(0) scale(0.85,1)">E</text>
<text x="0.00" y="0.00" font-size="15.5" font-style="italic" text-anchor="start" transform="translate(441.40,133.00) rotate(-90) scale(0.95,1)">D</text>
<text x="0.00" y="0.00" font-size="12.5" text-anchor="start" transform="translate(443.60,122.00) rotate(-90) scale(0.85,1)">3</text>
<text x="0.00" y="0.00" font-size="15.5" font-style="italic" font-weight="bold" text-anchor="start" transform="translate(641.80,198.80) rotate(0) scale(0.95,1)">s</text>
<text x="0.00" y="0.00" font-size="15.5" font-style="italic" text-anchor="start" transform="translate(709.60,137.20) rotate(0) scale(1.05,1)">&#946;</text>
<text x="0.00" y="0.00" font-size="16.5" font-style="italic" text-anchor="start" transform="translate(244.40,228.70) rotate(0) scale(1.1,1)">n</text>
<text x="0.00" y="0.00" font-size="16" text-anchor="start" transform="translate(254.60,228.90) rotate(0) scale(1.05,1)">&#215;</text>
<text x="0.00" y="0.00" font-size="16.5" font-style="italic" text-anchor="start" transform="translate(264.20,228.70) rotate(0) scale(1.1,1)">d</text>
<text x="0.00" y="0.00" font-size="17" text-anchor="start" transform="translate(332.20,233.60) rotate(0) scale(0.9,1)">60</text>
<circle cx="349.60" cy="224.20" r="1.5" fill="none" stroke="#080808" stroke-width="0.9"/>
<text x="0.00" y="0.00" font-size="17" text-anchor="start" transform="translate(390.60,220.80) rotate(0) scale(0.9,1)">22.5</text>
<circle cx="418.60" cy="210.80" r="1.5" fill="none" stroke="#080808" stroke-width="0.9"/>
<text x="0.00" y="0.00" font-size="17" text-anchor="start" transform="translate(440.60,248.80) rotate(0) scale(0.9,1)">45</text>
<circle cx="457.60" cy="238.60" r="1.5" fill="none" stroke="#080808" stroke-width="0.9"/>
<text x="0.00" y="0.00" font-size="17" text-anchor="start" transform="translate(303.60,378.80) rotate(0) scale(0.9,1)">30</text>
<circle cx="320.80" cy="368.00" r="1.5" fill="none" stroke="#080808" stroke-width="0.9"/>
<text x="0.00" y="0.00" font-size="17" text-anchor="start" transform="translate(344.80,403.60) rotate(0) scale(0.9,1)">30</text>
<text x="0.00" y="0.00" font-size="17" text-anchor="start" transform="translate(385.80,404.60) rotate(0) scale(0.9,1)">10</text>
<circle cx="402.60" cy="393.80" r="1.5" fill="none" stroke="#080808" stroke-width="0.9"/>
<text x="0.00" y="0.00" font-size="17" text-anchor="start" transform="translate(414.20,399.60) rotate(0) scale(0.9,1)">20</text>
<circle cx="431.40" cy="387.60" r="1.5" fill="none" stroke="#080808" stroke-width="0.9"/>
<text x="0.00" y="0.00" font-size="17" text-anchor="start" transform="translate(501.60,213.20) rotate(0) scale(0.9,1)">15</text>
<circle cx="518.60" cy="202.80" r="1.5" fill="none" stroke="#080808" stroke-width="0.9"/>
<text x="0.00" y="0.00" font-size="17" text-anchor="start" transform="translate(500.40,400.20) rotate(0) scale(0.9,1)">18</text>
<circle cx="516.60" cy="390.60" r="1.5" fill="none" stroke="#080808" stroke-width="0.9"/>
<text transform="translate(363.30,274.80) scale(0.9,1)" font-size="17"><tspan font-style="italic">n</tspan>=6</text>
<text transform="translate(395.60,274.80) scale(0.9,1)" font-size="17"><tspan font-style="italic">n</tspan>=8</text>
<text transform="translate(357.00,342.20) scale(0.9,1)" font-size="17"><tspan font-style="italic">n</tspan>=10</text>
<text transform="translate(391.80,342.20) scale(0.9,1)" font-size="17"><tspan font-style="italic">n</tspan>=16</text>
<text transform="translate(499.20,298.20) scale(0.9,1)" font-size="17"><tspan font-style="italic">n</tspan>=22</text>
<text transform="translate(499.20,313.60) scale(0.9,1)" font-size="17"><tspan font-style="italic">n</tspan>=18</text>
</g>
</svg>
</body></html>
